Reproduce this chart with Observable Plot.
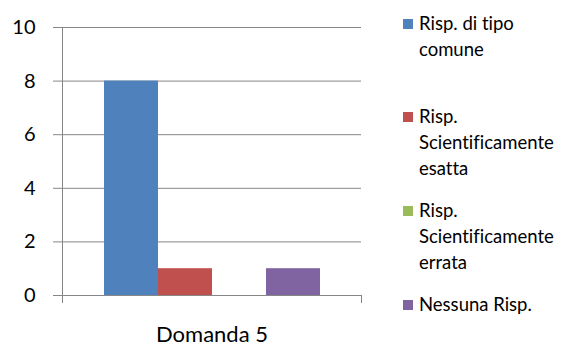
<!DOCTYPE html>
<html>
<head>
<meta charset="utf-8">
<script src="https://cdn.jsdelivr.net/npm/d3@7"></script>
<script src="https://cdn.jsdelivr.net/npm/@observablehq/plot@0.6"></script>
<style>
  html, body { margin: 0; padding: 0; background: #fff; }
  #chart { position: relative; width: 568px; height: 347px; overflow: hidden; font-variant-ligatures: none; }
  #chart svg text { font-variant-ligatures: none; }
  #legend { position: absolute; left: 0; top: 0; font-family: Lato, sans-serif; font-size: 18.5px; line-height: 26px; color: #000; }
  .item { position: absolute; left: 403px; white-space: nowrap; }
  .swatch { position: absolute; left: 0; top: 9px; width: 10px; height: 10px; }
  .label { position: absolute; left: 16px; top: 0; }
</style>
</head>
<body>
<div id="chart"><div id="legend"></div></div>
<script>
// One question, four kinds of answer
const category = "Domanda 5";
const series = [
  "Risp. di tipo comune",
  "Risp. Scientificamente esatta",
  "Risp. Scientificamente errata",
  "Nessuna Risp."
];
const values = [8, 1, 0, 1];
const colors = ["#4F81BD", "#C0504D", "#9BBB59", "#8064A2"];
const yTicks = [0, 2, 4, 6, 8, 10];
// Legend entries as they wrap in the legend column
const legendLines = [
  ["Risp. di tipo", "comune"],
  ["Risp.", "Scientificamente", "esatta"],
  ["Risp.", "Scientificamente", "errata"],
  ["Nessuna Risp."]
];
const legendTops = [10, 103, 197, 291];

const data = series.map((s, i) => ({ category, series: s, value: values[i] }));
const gridColor = "#868686";

const chart = Plot.plot({
  width: 568,
  height: 347,
  marginLeft: 62,
  marginRight: 207,
  marginTop: 27,
  marginBottom: 52,
  style: { fontFamily: "Lato, sans-serif", fontSize: "20px", color: "#000", background: "#fff" },
  fx: { domain: [category], padding: 0, label: null },
  x: { domain: series, paddingInner: 0, paddingOuter: 0.755, axis: null },
  y: { domain: [0, 10], label: null },
  color: { domain: series, range: colors },
  marks: [
    Plot.ruleY(yTicks, { stroke: gridColor }),
    Plot.frame({ anchor: "left", stroke: gridColor, insetBottom: -7 }),
    Plot.frame({ anchor: "right", stroke: gridColor, insetTop: 268, insetBottom: -7 }),
    Plot.barY(data, { fx: "category", x: "series", y: "value", fill: "series" }),
    Plot.axisY({ ticks: yTicks, tickSize: 9, tickPadding: 18, stroke: gridColor, fontSize: 20, label: null }),
    Plot.axisFx({ anchor: "bottom", tickSize: 0, tickPadding: 31, fontSize: 22, label: null })
  ]
});

const root = document.getElementById("chart");
root.insertBefore(chart, root.firstChild);

const legend = d3.select("#legend");
series.forEach((s, i) => {
  const item = legend.append("div").attr("class", "item").style("top", legendTops[i] + "px");
  item.append("div").attr("class", "swatch").style("background", colors[i]);
  const label = item.append("div").attr("class", "label");
  legendLines[i].forEach((line, j) => {
    if (j) label.append("br");
    label.append("span").text(line);
  });
});
</script>
</body>
</html>
